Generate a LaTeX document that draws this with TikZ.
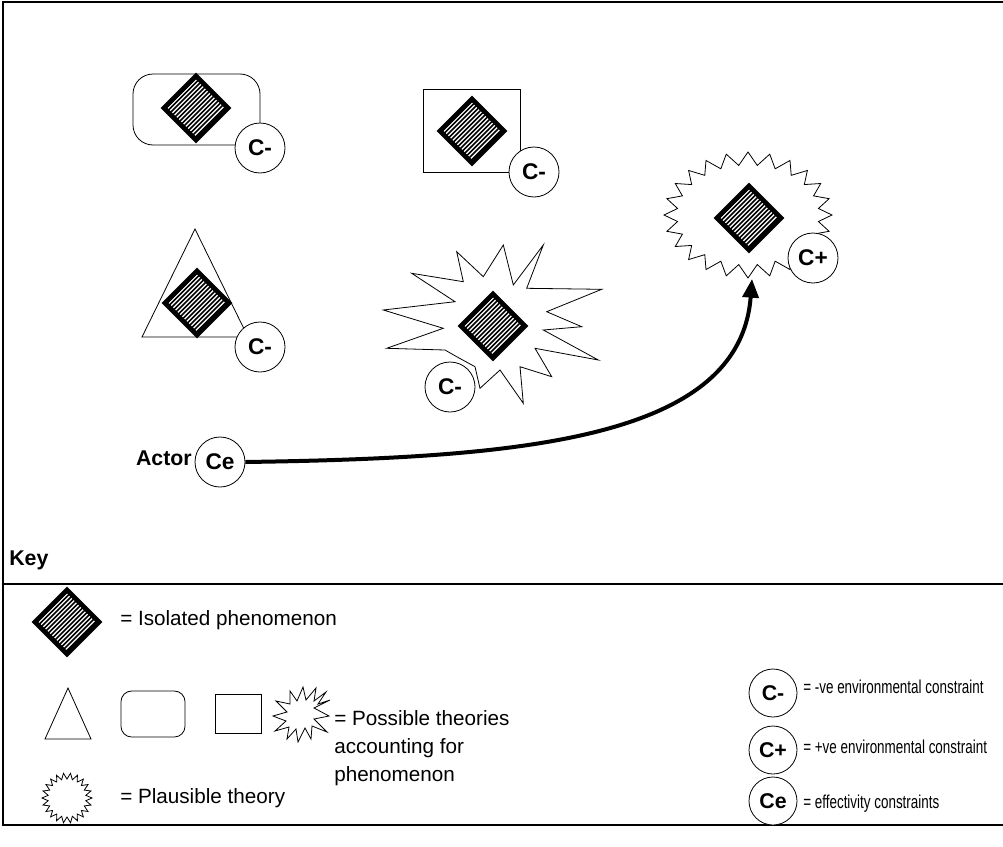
\documentclass[tikz,border=0pt]{standalone}
\usepackage{fontspec}
\setmainfont{Liberation Sans}
\newfontfamily\narrowsans{Liberation Sans}[FakeStretch=0.72]
\usetikzlibrary{arrows.meta}
\begin{document}
\begin{tikzpicture}[x=0.75pt,y=-0.75pt,
  thinline/.style={line width=0.6pt},
  frameline/.style={line width=0.8pt},
  cn/.style={circle, draw, fill=white, line width=0.6pt, minimum size=37.5pt,
    inner sep=0pt, font=\bfseries\fontsize{17}{20}\selectfont},
  kcn/.style={cn, minimum size=36pt, font=\bfseries\fontsize{16}{19}\selectfont},
  lbl/.style={inner sep=0pt, font=\bfseries\fontsize{16}{19}\selectfont,
    text height=0.72em, text depth=0.2em},
  txt/.style={inner sep=0pt, anchor=west, font=\fontsize{15.5}{18}\selectfont,
    text height=0.72em, text depth=0.2em},
  ktxt/.style={txt, font=\narrowsans\fontsize{14}{17}\selectfont},
  phen/.pic={
    \begin{scope}
      \clip (0,-33) -- (33,0) -- (0,33) -- (-33,0) -- cycle;
      \foreach \hx in {-66,-61.5,...,66}
        \draw[line width=1.1pt] (\hx-40,40) -- (\hx+40,-40);
    \end{scope}
    \draw[line width=3.6pt, line join=miter] (0,-32) -- (32,0) -- (0,32) -- (-32,0) -- cycle;
  }
]
\useasboundingbox (0,0) rectangle (1003,846);

% frame and key divider
\draw[frameline] (1003,2) -- (3,2) -- (3,825) -- (1003,825);
\draw[frameline] (3,584) -- (1003,584);

% theory 1: rounded box
\draw[thinline, rounded corners=15pt] (133,74) rectangle (260,145);
\pic at (196,108) {phen};
\node[cn] (cr) at (260,148) {C-};

% theory 2: square box
\draw[thinline] (423,89) rectangle (520,172);
\pic at (472,131) {phen};
\node[cn] (cs) at (534,172) {C-};

% theory 3: triangle
\draw[thinline] (195,229) -- (248,337) -- (142,337) -- cycle;
\pic at (197,303) {phen};
\node[cn] (ct) at (260,347) {C-};

% theory 4: starburst
\draw[thinline] (503.3,245) -- (513.3,285) -- (543.3,245) -- (526.7,288.3)
  -- (601.7,289.3) -- (546.7,311.7) -- (581.7,326.7) -- (543.3,330)
  -- (598.3,360) -- (535,348.3) -- (551.7,376.7) -- (520,366.7)
  -- (523.3,403.3) -- (500,370) -- (480,388.3) -- (475,366.7)
  -- (456.7,356.7) -- (445,350) -- (386.7,348.3) -- (443.3,328.3)
  -- (383.3,310) -- (455,301.7) -- (411.7,273.3) -- (463.3,281.7)
  -- (456.7,251.7) -- (483.3,276.7) -- cycle;
\pic at (493,326) {phen};
\node[cn] (cb) at (450,387) {C-};

% plausible theory
\draw[thinline] plot[samples=49, domain=0:48, variable=\k]
  ({748+(84-13*mod(round(\k),2))*cos(\k/48*360)}, {215+(63-13*mod(round(\k),2))*sin(\k/48*360)}) -- cycle;
\pic at (749,218) {phen};
\node[cn] (cp) at (813,258) {C+};
\coordinate (tip) at (752,279);

% actor and its move
\node[cn] (ce) at (220,462) {Ce};
\node[lbl, anchor=east] (actor) at (192,462) {Actor};
\draw[line width=3pt, -{Triangle[length=14pt,width=12pt]}]
  (ce.east) .. controls (520,458) and (740,440) .. (tip);

% key
\node[lbl, anchor=west] (key) at (9,562) {Key};
\pic at (67,622) {phen};
\node[txt] (k1) at (120,622) {= Isolated phenomenon};

\draw[thinline] (68,688) -- (91,739) -- (45,739) -- cycle;
\draw[thinline, rounded corners=8pt] (121,691) rectangle (185,737);
\draw[thinline] (215,694) rectangle (261,733);
\draw[thinline] (330,700) -- (314,708) -- (329,716) -- (314,719) -- (327,732)
  -- (312,726) -- (311,739) -- (305,728) -- (298,742) -- (296,729) -- (287,739)
  -- (289,727) -- (275,731) -- (286,721) -- (273,716) -- (287,712) -- (276,701)
  -- (290,704) -- (290,691) -- (297,701) -- (303,687) -- (306,700) -- (316,688)
  -- (314,701) -- (326,692) -- (318,704) -- cycle;
\node[txt] (k2a) at (334,722) {= Possible theories};
\node[txt] (k2b) at (334,750) {accounting for};
\node[txt] (k2c) at (334,778) {phenomenon};

\draw[thinline] plot[samples=45, domain=0:44, variable=\k]
  ({67+(25-6*mod(round(\k),2))*cos(\k/44*360)}, {798+(25-6*mod(round(\k),2))*sin(\k/44*360)}) -- cycle;
\node[txt] (k3) at (120,800) {= Plausible theory};

\node[kcn] (kc1) at (773,693) {C-};
\node[ktxt] (kt1) at (803,690) {= -ve environmental constraint};
\node[kcn] (kc2) at (773,750) {C+};
\node[ktxt] (kt2) at (803,750) {= +ve environmental constraint};
\node[kcn] (kc3) at (773,801) {Ce};
\node[ktxt] (kt3) at (803,805) {= effectivity constraints};
\end{tikzpicture}
\end{document}
